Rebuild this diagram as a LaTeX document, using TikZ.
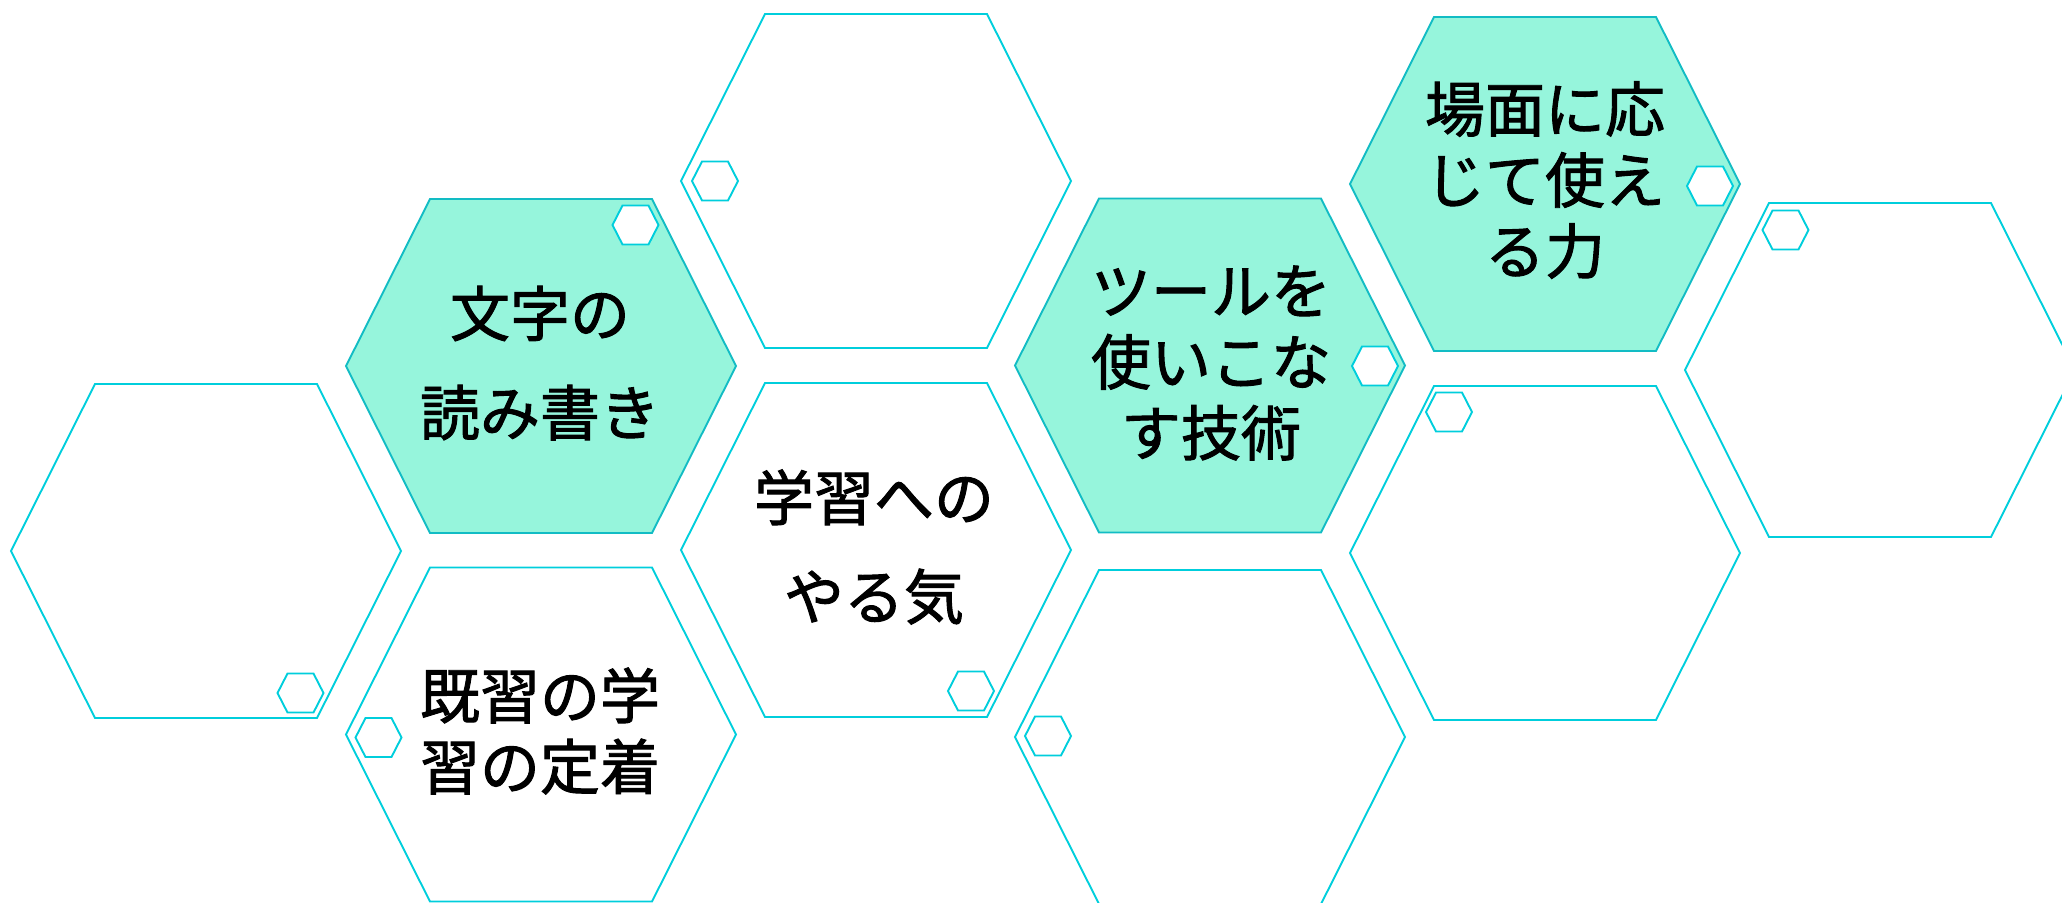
\documentclass[tikz,border=0pt]{standalone}
\usepackage{fontspec}
\newfontfamily\jp[FakeBold=1.6]{Noto Sans CJK JP}
\definecolor{hexline}{RGB}{0,206,220}
\definecolor{hexdark}{RGB}{18,188,196}
\definecolor{mint}{RGB}{150,245,220}
\begin{document}
\begin{tikzpicture}[x=0.5pt,y=-0.5pt,
  bighex/.pic={\path[pic actions] (-195,0) -- (-111,-167) -- (111,-167) -- (195,0) -- (111,167) -- (-111,167) -- cycle;},
  smallhex/.pic={\path[pic actions] (-23,0) -- (-13,-19.5) -- (13,-19.5) -- (23,0) -- (13,19.5) -- (-13,19.5) -- cycle;},
  plainhex/.style={draw=hexline,line width=0.95pt},
  keyhex/.style={draw=hexdark,fill=mint,line width=0.95pt},
  tinyhex/.style={draw=hexline,fill=white,line width=0.95pt},
  widelabel/.style={font=\jp\fontsize{30}{49.5}\selectfont,align=center,inner sep=0pt},
  tightlabel/.style={font=\jp\fontsize{30}{35.5}\selectfont,align=center,inner sep=0pt}]
\useasboundingbox (0,0) rectangle (2062,902);
\clip (0,0) rectangle (2062,902);
% big hexagons
\pic[plainhex] at (206,551) {bighex};
\pic[keyhex]   at (541,366) {bighex};
\pic[plainhex] at (541,734.5) {bighex};
\pic[plainhex] at (876,181) {bighex};
\pic[plainhex] at (876,550) {bighex};
\pic[keyhex]   at (1210,365.5) {bighex};
\pic[plainhex] at (1210,737) {bighex};
\pic[keyhex]   at (1545,184) {bighex};
\pic[plainhex] at (1545,553) {bighex};
\pic[plainhex] at (1880,370) {bighex};
% small hexagons
\pic[tinyhex] at (300.5,693) {smallhex};
\pic[tinyhex] at (635.5,225) {smallhex};
\pic[tinyhex] at (715,181) {smallhex};
\pic[tinyhex] at (378.5,737.5) {smallhex};
\pic[tinyhex] at (971,691) {smallhex};
\pic[tinyhex] at (1375,366) {smallhex};
\pic[tinyhex] at (1048,736) {smallhex};
\pic[tinyhex] at (1710,186) {smallhex};
\pic[tinyhex] at (1449,412) {smallhex};
\pic[tinyhex] at (1785.5,230) {smallhex};
% labels
\node[widelabel]  (moji)   at (540,363) {文字の\\読み書き};
\node[tightlabel] (kishu)  at (540,731) {既習の学\\習の定着};
\node[widelabel]  (yaruki) at (874,547) {学習への\\やる気};
\node[tightlabel] (tool)   at (1211,363) {ツールを\\使いこな\\す技術};
\node[tightlabel] (bamen)  at (1545,180) {場面に応\\じて使え\\る力};
\end{tikzpicture}
\end{document}
